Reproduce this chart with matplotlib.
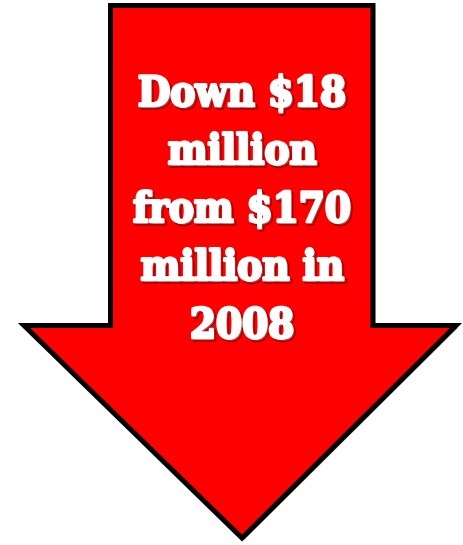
import matplotlib
matplotlib.use("Agg")
import matplotlib.pyplot as plt
import matplotlib.patheffects as pe
from matplotlib.patches import Polygon

# text shown in the arrow
lines = ["Down $18", "million", "from $170", "million in", "2008"]

# arrow shape (pixels)
shaft_left, shaft_right, shaft_top, shaft_bottom = 110.5, 373, 5.5, 325.5
head_left, head_right, tip_x, tip_y = 24, 456, 242, 538

fig = plt.figure(figsize=(4.64, 5.45), dpi=100)
ax = fig.add_axes([0, 0, 1, 1])
ax.set_xlim(0, 464)
ax.set_ylim(545, 0)
ax.axis("off")

verts = [(shaft_left, shaft_top), (shaft_right, shaft_top), (shaft_right, shaft_bottom),
         (head_right, shaft_bottom), (tip_x, tip_y), (head_left, shaft_bottom),
         (shaft_left, shaft_bottom)]
arrow = Polygon(verts, closed=True, facecolor="#ff0000", edgecolor="black",
                linewidth=3.6, joinstyle="miter",
                path_effects=[pe.SimplePatchShadow(offset=(1.5, -1.5), alpha=0.5), pe.Normal()])
ax.add_patch(arrow)

y0, dy = 94, 58
for i, s in enumerate(lines):
    ax.text(242, y0 + i * dy, s, ha="center", va="center", color="white",
            fontsize=30, fontweight="bold", fontstretch="condensed", family=["DejaVu Serif"],
            path_effects=[pe.Stroke(linewidth=2.5, foreground="#7a0000", alpha=0.6, offset=(1.5, -1.5)),
                          pe.Stroke(linewidth=2.0, foreground="white"),
                          pe.Normal()])

fig.savefig("out.png", dpi=100)
